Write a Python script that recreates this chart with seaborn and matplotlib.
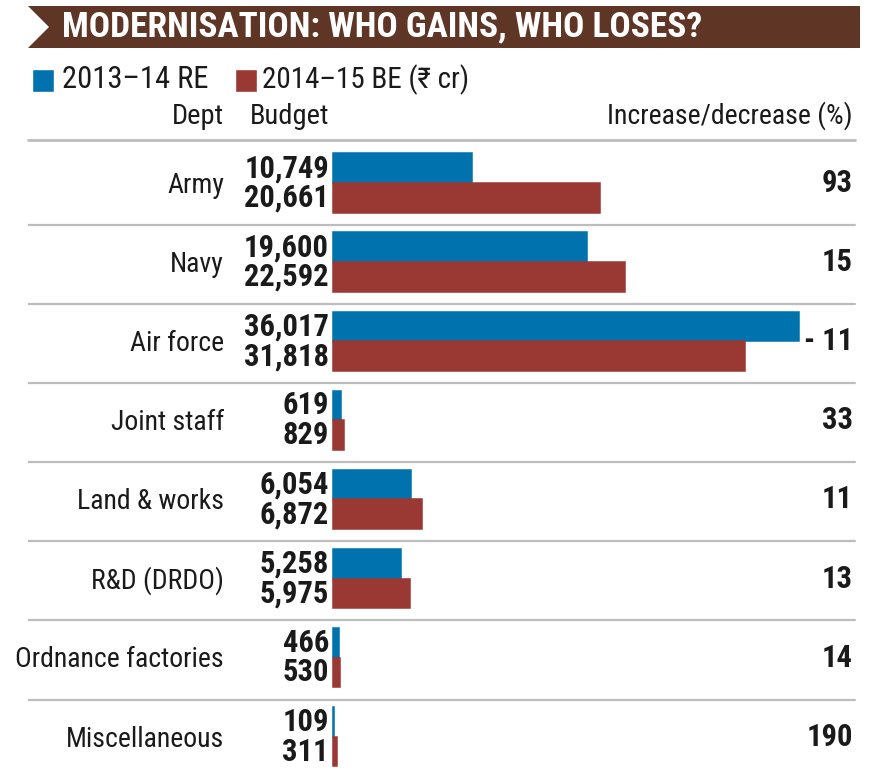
import matplotlib
matplotlib.use('Agg')
import matplotlib.pyplot as plt
from matplotlib.patches import Polygon, Rectangle
from matplotlib.transforms import blended_transform_factory
import pandas as pd
import seaborn as sns

# data (Rs crore)
depts = ['Army', 'Navy', 'Air force', 'Joint staff', 'Land & works',
         'R&D (DRDO)', 'Ordnance factories', 'Miscellaneous']
re_2013_14 = [10749, 19600, 36017, 619, 6054, 5258, 466, 109]
be_2014_15 = [20661, 22592, 31818, 829, 6872, 5975, 530, 311]
change_pct = ['93', '15', '- 11', '33', '11', '13', '14', '190']
series = ['2013–14 RE', '2014–15 BE']

BLUE = '#0073ae'
RED = '#9a3834'
BROWN = '#5f3526'
INK = '#1a1a1a'
LINE = '#bdbdbd'

df = pd.DataFrame({
    'dept': depts * 2,
    'value': re_2013_14 + be_2014_15,
    'series': [series[0]] * len(depts) + [series[1]] * len(depts),
})

sns.set_theme(style='white')
plt.rcParams['font.family'] = ['Roboto Condensed', 'DejaVu Sans Condensed',
                               'Liberation Sans Narrow', 'DejaVu Sans']

W, H = 887, 783
fig = plt.figure(figsize=(W / 100, H / 100), dpi=100)
fig.patch.set_facecolor('white')


def fx(px):
    return px / W


def fy(py):
    return 1 - py / H


# bar area: axes spans the full table width below the header rule
ax = fig.add_axes([fx(28), 0, fx(860) - fx(28), 1 - 139.5 / H])
sns.barplot(data=df, y='dept', x='value', hue='series', orient='h',
            palette=[BLUE, RED], saturation=1, width=0.75,
            legend=False, ax=ax)
# thin edge in the bar colour so the smallest bars stay visible
for p in ax.patches:
    p.set_edgecolor(p.get_facecolor())
    p.set_linewidth(1.1)

px_per_unit = (799 - 333) / 36017
ax.set_xlim(-(333 - 28) / px_per_unit, (860 - 333) / px_per_unit)
ax.set_ylim(7.585, -0.55)
ax.set_axis_off()

# row separators
ax.axhline(-0.55, xmin=0, xmax=(855 - 28) / 832, color=LINE, lw=2, clip_on=False)
for i in range(len(depts) - 1):
    ax.axhline(i + 0.53, xmin=0, xmax=(855 - 28) / 832, color=LINE, lw=1.6)

row_tf = blended_transform_factory(fig.transFigure, ax.transData)

# department names and percentage change
for i, name in enumerate(depts):
    ax.text(fx(224), i + 0.03, name, transform=row_tf, ha='right', va='center',
            fontsize=20, color=INK)
    ax.text(fx(853), i, change_pct[i], transform=row_tf, ha='right',
            va='center', fontsize=22, fontweight='bold', color=INK)

# budget figures next to each bar
for p in ax.patches:
    val = p.get_width()
    yc = p.get_y() + p.get_height() / 2
    ax.text(fx(329), yc, f'{int(round(val)):,}', transform=row_tf,
            ha='right', va='center', fontsize=22, fontweight='bold', color=INK)

# title banner
banner = Polygon([(fx(28), fy(6)), (fx(860), fy(6)), (fx(860), fy(48)),
                  (fx(28), fy(48)), (fx(49), fy(27))],
                 closed=True, transform=fig.transFigure, facecolor=BROWN,
                 edgecolor='none')
fig.patches.append(banner)
fig.text(fx(62), fy(27), 'MODERNISATION: WHO GAINS, WHO LOSES?',
         ha='left', va='center', fontsize=25.5, fontweight='bold', color='white')

# legend
fig.patches.append(Rectangle((fx(32), fy(92)), fx(22), 23 / H,
                             transform=fig.transFigure, facecolor=BLUE))
fig.text(fx(62), fy(80), series[0], ha='left', va='center', fontsize=22,
         color=INK)
fig.patches.append(Rectangle((fx(235), fy(92)), fx(22), 23 / H,
                             transform=fig.transFigure, facecolor=RED))
fig.text(fx(262), fy(80), series[1] + ' (₹ cr)', ha='left', va='center',
         fontsize=21, color=INK)

# column headers
fig.text(fx(224), fy(116), 'Dept', ha='right', va='center', fontsize=20.5, color=INK)
fig.text(fx(250), fy(116), 'Budget', ha='left', va='center', fontsize=20.5, color=INK)
fig.text(fx(853), fy(116), 'Increase/decrease (%)', ha='right', va='center',
         fontsize=20, color=INK)

fig.savefig('out.png', dpi=100, facecolor='white')
